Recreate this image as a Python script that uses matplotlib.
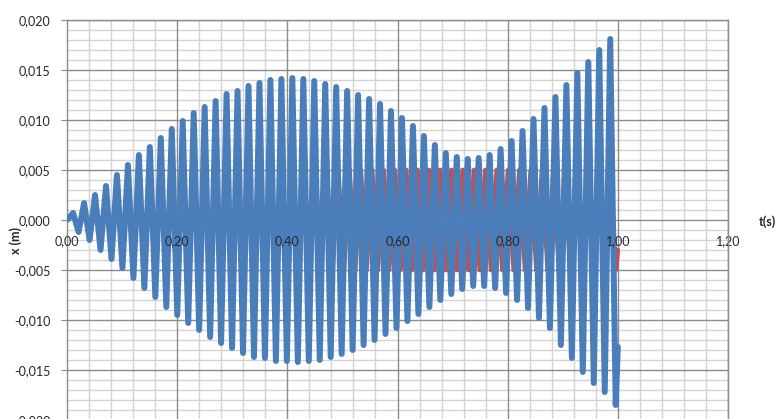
import numpy as np
import matplotlib
matplotlib.use("Agg")
import matplotlib.pyplot as plt
from matplotlib.ticker import MultipleLocator, FuncFormatter

plt.rcParams['font.family'] = ['Lato', 'DejaVu Sans']

# displacement x(t): peak and trough values of each cycle (m)
period = 0.0199          # s, spacing between successive peaks
first_peak = 0.0111      # s
blue_peaks = [0.0007, 0.0017, 0.0025, 0.0034, 0.0045, 0.0055, 0.0065, 0.0073, 0.0082, 0.0091,
              0.0099, 0.0107, 0.0113, 0.0119, 0.0126, 0.0129, 0.0134, 0.0137, 0.0140, 0.0141,
              0.0142, 0.0141, 0.0139, 0.0136, 0.0133, 0.0129, 0.0125, 0.0121, 0.0116, 0.0109,
              0.0102, 0.0094, 0.0084, 0.0075, 0.0067, 0.0063, 0.0061, 0.0062, 0.0065, 0.0071,
              0.0079, 0.0089, 0.0101, 0.0112, 0.0123, 0.0135, 0.0147, 0.0158, 0.0170, 0.0181]
blue_troughs = [-0.0012, -0.0020, -0.0030, -0.0039, -0.0048, -0.0058, -0.0068, -0.0077, -0.0087, -0.0095,
                -0.0103, -0.0110, -0.0117, -0.0123, -0.0128, -0.0133, -0.0137, -0.0138, -0.0141, -0.0141,
                -0.0142, -0.0141, -0.0140, -0.0137, -0.0134, -0.0130, -0.0125, -0.0120, -0.0114, -0.0108,
                -0.0101, -0.0094, -0.0087, -0.0080, -0.0074, -0.0069, -0.0066, -0.0066, -0.0068, -0.0073,
                -0.0080, -0.0088, -0.0098, -0.0108, -0.0125, -0.0138, -0.0152, -0.0163, -0.0172, -0.0185]
blue_start = (0.0, 0.0)
blue_end = (1.0, -0.0127)

# steady-state response: peaks and troughs (m)
red_period = 0.02058
red_first_peak = 0.3069
red_peaks = [0.0050, 0.0050, 0.0050, 0.0050, 0.0050, 0.0050, 0.0050, 0.0050, 0.0050, 0.0050,
             0.0050, 0.0050, 0.0050, 0.0050, 0.0050, 0.0050, 0.0050, 0.0050, 0.0050, 0.0050,
             0.0050, 0.0050, 0.0050, 0.0050, 0.0050, 0.0050, 0.0050, 0.0050, 0.0050, 0.0050,
             0.0050, 0.0050, 0.0050, 0.0050]
red_troughs = [-0.0050, -0.0050, -0.0050, -0.0050, -0.0050, -0.0050, -0.0050, -0.0050, -0.0050, -0.0050,
               -0.0050, -0.0050, -0.0050, -0.0050, -0.0050, -0.0050, -0.0050, -0.0050, -0.0050, -0.0050,
               -0.0050, -0.0050, -0.0050, -0.0050, -0.0050, -0.0050, -0.0050, -0.0050, -0.0050, -0.0050,
               -0.0050, -0.0050, -0.0050, -0.0050]
red_end = (1.0, -0.0030)


def zigzag(t0, T, peaks, troughs):
    # alternate peak / trough samples half a period apart
    n = len(peaks)
    t = np.empty(2 * n)
    y = np.empty(2 * n)
    t[0::2] = t0 + T * np.arange(n)
    t[1::2] = t0 + T * np.arange(n) + T / 2
    y[0::2] = peaks
    y[1::2] = troughs
    return t, y


bt, by = zigzag(first_peak, period, blue_peaks, blue_troughs)
bt = np.concatenate([[blue_start[0]], bt, [blue_end[0]]])
by = np.concatenate([[blue_start[1]], by, [blue_end[1]]])

rt, ry = zigzag(red_first_peak, red_period, red_peaks, red_troughs)
rt = np.concatenate([rt, [red_end[0]]])
ry = np.concatenate([ry, [red_end[1]]])

W, H = 781, 419
fig = plt.figure(figsize=(W / 100, H / 100), dpi=100)
ax = fig.add_axes([67 / W, (H - 420) / H, 661 / W, 400 / H])

major_c = '#8c8c8c'
minor_c = '#d4d4d4'

ax.set_xlim(0, 1.2)
ax.set_ylim(-0.020, 0.020)
ax.xaxis.set_major_locator(MultipleLocator(0.2))
ax.yaxis.set_major_locator(MultipleLocator(0.005))

# grid drawn by hand so the tick labels can sit above the curves
for xv in np.arange(0.04, 1.2001, 0.04):
    major = abs(xv / 0.2 - round(xv / 0.2)) < 1e-6
    ax.axvline(xv, color=major_c if major else minor_c, lw=1.0, zorder=0.6 if major else 0.5)
for yv in np.arange(-0.020, 0.02001, 0.001):
    major = abs(yv / 0.005 - round(yv / 0.005)) < 1e-6
    ax.axhline(yv, color=major_c if major else minor_c, lw=1.0, zorder=0.6 if major else 0.5)

ax.xaxis.set_major_formatter(FuncFormatter(lambda v, p: f"{v:.2f}".replace('.', ',')))
ax.yaxis.set_major_formatter(FuncFormatter(lambda v, p: f"{v:.3f}".replace('.', ',')))

for name, s in ax.spines.items():
    s.set_color(major_c)
    s.set_linewidth(1.0)
ax.spines['bottom'].set_position(('data', 0))
ax.spines['bottom'].set_visible(False)
ax.spines['left'].set_zorder(0.7)

ax.tick_params(axis='y', which='major', direction='out', length=4, color=major_c,
               pad=8, labelsize=9, labelcolor='#262626')
ax.tick_params(axis='x', which='major', direction='out', length=0,
               pad=11, labelsize=9, labelcolor='#262626')
ax.tick_params(which='minor', length=0)

ax.plot(rt, ry, color='#c0504d', lw=3.4, solid_joinstyle='round', solid_capstyle='round', zorder=1.2)
ax.plot(bt, by, color='#4a7ebb', lw=4.3, solid_joinstyle='round', solid_capstyle='round', zorder=1.4)

fig.text(16 / W, 1 - 240 / H, 'x (m)', rotation=90, ha='center', va='center',
         fontsize=9, fontweight='bold', color='#262626')
fig.text(759 / W, 1 - 222 / H, 't(s)', ha='left', va='center',
         fontsize=9, fontweight='bold', color='#262626')

fig.savefig('out.png', dpi=100)
